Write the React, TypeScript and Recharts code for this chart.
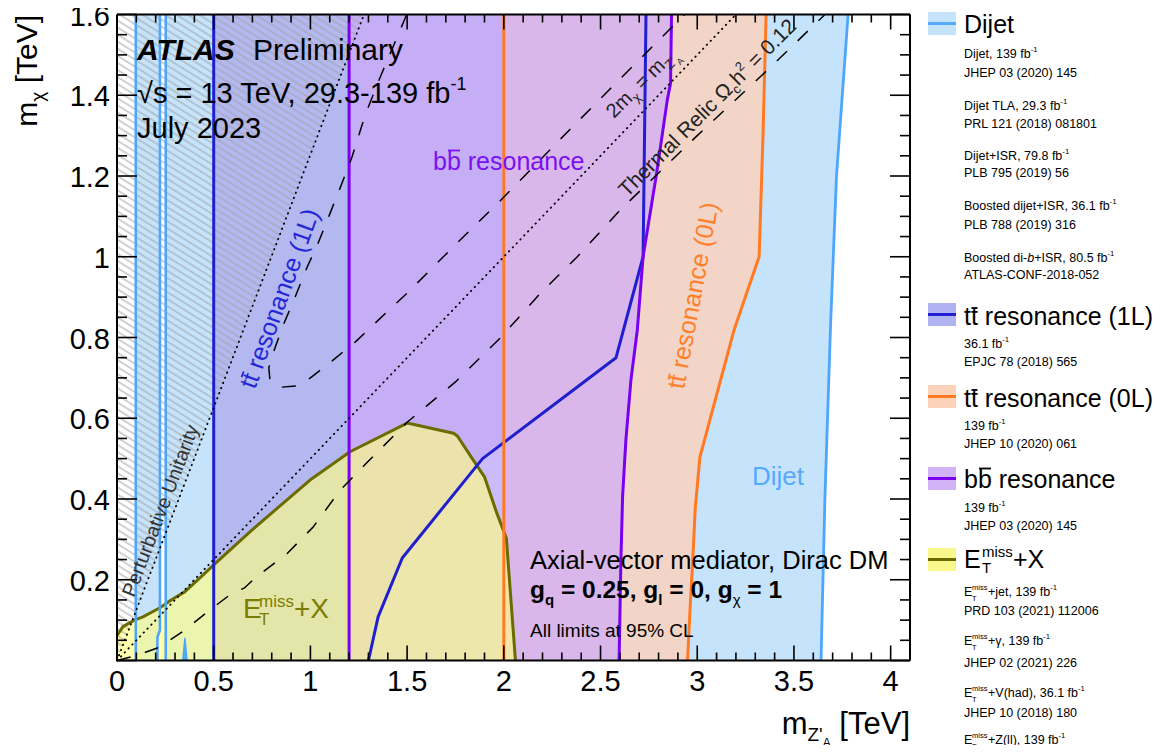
import React from 'react';
import { ComposedChart, Scatter, XAxis, YAxis } from 'recharts';

type Pt = { x: number; y: number };
type Pair = [number, number];

const FONT = "'Liberation Sans', Arial, Helvetica, sans-serif";

// ---------- axes ----------
const X_MAX = 4.1;
const Y_MAX = 1.6;
const xMajorTicks = [0, 0.5, 1, 1.5, 2, 2.5, 3, 3.5, 4];
const xMajorLabels = ['0', '0.5', '1', '1.5', '2', '2.5', '3', '3.5', '4'];
const yMajorTicks = [0, 0.2, 0.4, 0.6, 0.8, 1, 1.2, 1.4, 1.6];
const yMajorLabels = ['', '0.2', '0.4', '0.6', '0.8', '1', '1.2', '1.4', '1.6'];
const X_MINOR_DIV = 5; // minor ticks per major interval
const Y_MINOR_DIV = 4;

const subdivide = (majors: number[], div: number, max: number) => {
  const step = (majors[1] - majors[0]) / div;
  const out: number[] = [];
  for (let i = 0; i * step <= max + 1e-9; i++) out.push(+(i * step).toFixed(3));
  return out;
};
const xTicks = subdivide(xMajorTicks, X_MINOR_DIV, X_MAX);
const yTicks = subdivide(yMajorTicks, Y_MINOR_DIV, Y_MAX);

// ---------- exclusion contours (m_Z'A [TeV], m_chi [TeV]) ----------
const dijetStripLeftX = 0.097;
const dijetStripRightEdge: Pair[] = [[0.209, 0], [0.209, 0.058], [0.222, 0.075], [0.222, 1.6]];
const dijetMainLeftX = 0.252;
const dijetRightEdge: Pair[] = [[3.64, 0], [3.66, 0.4], [3.69, 0.84], [3.72, 1.2], [3.78, 1.6]];
const dijetSpike: Pair[] = [[0.34, 0], [0.351, 0.055], [0.362, 0]];

const tt1LLeftX = 0.5;
const tt1LRightEdge: Pair[] = [
  [1.3, 0], [1.35, 0.108], [1.475, 0.254], [1.89, 0.5], [2.58, 0.75], [2.72, 1.0], [2.735, 1.6],
];

const tt0LLeftX = 2.0;
const tt0LRightEdge: Pair[] = [
  [2.95, 0], [2.962, 0.12], [2.976, 0.241], [2.99, 0.38], [3.014, 0.504], [3.19, 0.818],
  [3.32, 1.0], [3.34, 1.3], [3.356, 1.6],
];

const bbLeftX = 1.2;
const bbRightEdge: Pair[] = [
  [2.596, 0], [2.605, 0.241], [2.614, 0.406], [2.631, 0.546], [2.657, 0.694], [2.69, 0.818],
  [2.72, 1.0], [2.79, 1.207], [2.845, 1.388], [2.862, 1.43], [2.867, 1.6],
];

const metEdge: Pair[] = [
  [0, 0.062], [0.031, 0.084], [0.09, 0.1], [0.134, 0.108], [0.22, 0.13], [0.28, 0.15],
  [0.35, 0.17], [0.43, 0.205], [0.507, 0.24], [0.69, 0.32], [0.998, 0.447], [1.205, 0.517],
  [1.5, 0.588], [1.53, 0.585], [1.74, 0.563], [1.76, 0.556], [1.83, 0.505], [1.9, 0.455],
  [1.96, 0.37], [2.013, 0.303], [2.06, 0],
];

// reference curves
const unitarityLine: Pair[] = [[0, 0], [1.277, 1.6]];
const halfMassLine: Pair[] = [[0, 0], [3.2, 1.6]];
const relicHookCurve: Pair[] = [
  [1.498, 1.6], [1.361, 1.445], [1.283, 1.351], [1.215, 1.247], [1.163, 1.182], [1.102, 1.108],
  [1.04, 1.034], [0.981, 0.972], [0.921, 0.9], [0.859, 0.83], [0.807, 0.761], [0.785, 0.725],
  [0.79, 0.698], [0.81, 0.684], [0.85, 0.677], [0.93, 0.68], [1.0, 0.7], [1.117, 0.744],
  [1.237, 0.791], [1.351, 0.843], [1.5, 0.91], [1.75, 1.03], [1.984, 1.14], [2.3, 1.295],
  [2.6, 1.44], [2.88, 1.574], [2.935, 1.6],
];
const relicLowerCurve: Pair[] = [
  [0, 0], [0.1, 0.012], [0.22, 0.033], [0.35, 0.075], [0.48, 0.125], [0.59, 0.165], [0.66, 0.18],
  [0.72, 0.207], [0.88, 0.265], [1.015, 0.331], [1.154, 0.422], [1.29, 0.489], [1.5, 0.59],
  [1.75, 0.69], [1.984, 0.8], [2.19, 0.91], [2.38, 1.0], [2.6, 1.115], [3.0, 1.3], [3.38, 1.47],
  [3.66, 1.6],
];

// ---------- helpers to build series ----------
const pts = (a: Pair[]): Pt[] => a.map(([x, y]) => ({ x, y }));
const vertical = (x: number): Pair[] => [[x, 0], [x, Y_MAX]];
const bandRegion = (leftX: number, rightEdge: Pair[]): Pair[] => [
  [leftX, 0], [leftX, Y_MAX], ...[...rightEdge].reverse(),
];

const dijetStripRegion = bandRegion(dijetStripLeftX, dijetStripRightEdge);
const dijetMainRegion = bandRegion(dijetMainLeftX, dijetRightEdge);
const tt1LRegion = bandRegion(tt1LLeftX, tt1LRightEdge);
const tt0LRegion = bandRegion(tt0LLeftX, tt0LRightEdge);
const bbRegion = bandRegion(bbLeftX, bbRightEdge);
const metRegion: Pair[] = [[0, 0], ...metEdge];
const unitarityRegion: Pair[] = [[0, 0], unitarityLine[1], [0, Y_MAX]];

const COL = {
  dijetFill: '#c5e3fb',
  dijetLine: '#4ea6fb',
  tt1Fill: '#b3b8f0',
  tt1Line: '#1f1fd0',
  tt0Fill: '#f2d5c6',
  tt0Line: '#ff7a22',
  bbFill: '#ceaafa',
  bbLine: '#7a00ee',
  metFill: '#ffff82',
  metLine: '#6b6b00',
};

const noShape = () => <g />;

const fillSeries = (key: string, data: Pair[], fill: string, fillOpacity = 1) => (
  <Scatter
    key={key}
    name={key}
    data={pts(data)}
    xAxisId="b"
    yAxisId="l"
    shape={noShape}
    isAnimationActive={false}
    line={{ fill, fillOpacity, stroke: 'none' }}
  />
);

const strokeSeries = (
  key: string,
  data: Pair[],
  stroke: string,
  strokeWidth: number,
  strokeDasharray?: string,
  round = false,
) => (
  <Scatter
    key={key}
    name={key}
    data={pts(data)}
    xAxisId="b"
    yAxisId="l"
    shape={noShape}
    isAnimationActive={false}
    line={{
      fill: 'none',
      stroke,
      strokeWidth,
      strokeDasharray,
      strokeLinejoin: 'round',
      strokeLinecap: round ? 'round' : 'butt',
    }}
  />
);

// ---------- ticks (drawn inward, ROOT style) ----------
const majorIndex = (v: number, majors: number[]) => majors.findIndex((m) => Math.abs(m - v) < 1e-6);

const BottomTick = (p: any) => {
  const i = majorIndex(p.payload.value, xMajorTicks);
  return (
    <g>
      <line x1={p.x} x2={p.x} y1={p.y} y2={p.y - (i >= 0 ? 15 : 8)} stroke="#000" strokeWidth={1.6} />
      {i >= 0 && (
        <text x={p.x} y={p.y + 30.5} textAnchor="middle" fontSize={29} fontFamily={FONT} fill="#000">
          {xMajorLabels[i]}
        </text>
      )}
    </g>
  );
};
const TopTick = (p: any) => {
  const i = majorIndex(p.payload.value, xMajorTicks);
  return <line x1={p.x} x2={p.x} y1={p.y} y2={p.y + (i >= 0 ? 15 : 8)} stroke="#000" strokeWidth={1.6} />;
};
const LeftTick = (p: any) => {
  const i = majorIndex(p.payload.value, yMajorTicks);
  return (
    <g>
      <line x1={p.x} x2={p.x + (i >= 0 ? 20 : 10)} y1={p.y} y2={p.y} stroke="#000" strokeWidth={1.6} />
      {i >= 0 && yMajorLabels[i] && (
        <text x={p.x - 7} y={p.y + 11} textAnchor="end" fontSize={29} fontFamily={FONT} fill="#000">
          {yMajorLabels[i]}
        </text>
      )}
    </g>
  );
};
const RightTick = (p: any) => {
  const i = majorIndex(p.payload.value, yMajorTicks);
  return <line x1={p.x} x2={p.x - (i >= 0 ? 20 : 10)} y1={p.y} y2={p.y} stroke="#000" strokeWidth={1.6} />;
};

const frameLine = { stroke: '#000', strokeWidth: 2 };

// ---------- text helpers ----------
const Inv = ({ s }: { s: number }) => (
  <tspan dy={-0.45 * s} fontSize={s * 0.62}>
    -1
  </tspan>
);

const EtMissSmall = ({ x, y, rest }: { x: number; y: number; rest: React.ReactNode }) => (
  <text y={y} fontSize={12.5} fontFamily={FONT} fill="#000">
    <tspan x={x}>E</tspan>
    <tspan x={x + 8} dy={-6} fontSize={7.5}>miss</tspan>
    <tspan x={x + 8} dy={10.5} fontSize={7.5}>T</tspan>
    <tspan x={x + 24} dy={-4.5}>{rest}</tspan>
  </text>
);

const small = (x: number, y: number, content: React.ReactNode, key: string) => (
  <text key={key} x={x} y={y} fontSize={12.5} fontFamily={FONT} fill="#000">
    {content}
  </text>
);

const Swatch = ({ y, fill, line }: { y: number; fill: string; line: string }) => (
  <g>
    <rect x={928} y={y} width={28} height={23} fill={fill} />
    <line x1={928} x2={956} y1={y + 11.5} y2={y + 11.5} stroke={line} strokeWidth={3} />
  </g>
);

function Annotations() {
  const L = 964;
  return (
    <svg
      width={1168}
      height={753}
      style={{ position: 'absolute', left: 0, top: 0, pointerEvents: 'none', overflow: 'visible' }}
    >
      {/* axis titles */}
      <g transform="translate(37,15) rotate(-90)">
        <text x={0} y={0} textAnchor="end" fontSize={30} fontFamily={FONT} fill="#000">
          m<tspan dy={7} fontSize={19}>χ</tspan>
          <tspan dy={-7} fontSize={30}> [TeV]</tspan>
        </text>
      </g>
      <text x={910} y={734} textAnchor="end" fontSize={31} fontFamily={FONT} fill="#000">
        m<tspan dy={7} fontSize={19}>Z'</tspan>
        <tspan dy={6} fontSize={12}>A</tspan>
        <tspan dy={-13} fontSize={31}> [TeV]</tspan>
      </text>

      {/* ATLAS label */}
      <text x={137} y={60} fontSize={30} fontFamily={FONT} fontWeight="bold" fontStyle="italic" fill="#000">
        ATLAS
      </text>
      <text x={253} y={60} fontSize={30} fontFamily={FONT} fill="#000">
        Preliminary
      </text>
      <text x={137} y={103} fontSize={29} fontFamily={FONT} fill="#000">
        √s = 13 TeV, 29.3-139 fb<Inv s={29} />
      </text>
      <text x={137} y={138} fontSize={29} fontFamily={FONT} fill="#000">
        July 2023
      </text>

      {/* region labels */}
      <text x={433} y={170} fontSize={25} fontFamily={FONT} fill="#7b10f0">
        bb resonance
      </text>
      <line x1={433 + 0.6 * 25} x2={433 + 1.08 * 25} y1={170 - 0.78 * 25} y2={170 - 0.78 * 25} stroke="#7b10f0" strokeWidth={1.8} />

      <g transform="translate(255,390) rotate(-70)">
        <text x={0} y={0} fontSize={25} fontFamily={FONT} fill="#2626d8">
          tt resonance (1L)
        </text>
        <line x1={0.3 * 25} x2={0.54 * 25} y1={-0.68 * 25} y2={-0.68 * 25} stroke="#2626d8" strokeWidth={1.8} />
      </g>

      <g transform="translate(684,390) rotate(-79.5)">
        <text x={0} y={0} fontSize={25} fontFamily={FONT} fill="#ff7f2a">
          tt resonance (0L)
        </text>
        <line x1={0.3 * 25} x2={0.54 * 25} y1={-0.68 * 25} y2={-0.68 * 25} stroke="#ff7f2a" strokeWidth={1.8} />
      </g>

      <g transform="translate(134,598) rotate(-69.1)">
        <text x={0} y={0} fontSize={19.5} fontFamily={FONT} fill="#333">
          Perturbative Unitarity
        </text>
      </g>

      <g transform="translate(627,198) rotate(-45)">
        <text x={0} y={0} fontSize={21} fontFamily={FONT} fill="#222">
          Thermal Relic Ω<tspan dy={5} fontSize={13}>c</tspan>
          <tspan dy={-5} fontSize={21}>h</tspan>
          <tspan dy={-9} fontSize={13}>2</tspan>
          <tspan dy={9} fontSize={21}> = 0.12</tspan>
        </text>
      </g>

      <g transform="translate(614,119) rotate(-45)">
        <text x={0} y={0} fontSize={20} fontFamily={FONT} fill="#222">
          2m<tspan dy={5} fontSize={13}>χ</tspan>
          <tspan dy={-5} fontSize={20}> = m</tspan>
          <tspan dy={5} fontSize={13}>Z'</tspan>
          <tspan dy={4} fontSize={9}>A</tspan>
        </text>
      </g>

      <text y={618} fontSize={28} fontFamily={FONT} fill="#7d7d00">
        <tspan x={243}>E</tspan>
        <tspan x={259} dy={-11} fontSize={17}>miss</tspan>
        <tspan x={259} dy={18} fontSize={17}>T</tspan>
        <tspan x={294} dy={-7}>+X</tspan>
      </text>

      <text x={752} y={485} fontSize={26} fontFamily={FONT} fill="#55aaff">
        Dijet
      </text>

      <text x={530} y={569} fontSize={25.5} fontFamily={FONT} fill="#000">
        Axial-vector mediator, Dirac DM
      </text>
      <text x={530} y={598} fontSize={24.5} fontFamily={FONT} fontWeight="bold" fill="#000">
        g<tspan dy={7} fontSize={15}>q</tspan>
        <tspan dy={-7}> = 0.25, g</tspan>
        <tspan dy={7} fontSize={15}>l</tspan>
        <tspan dy={-7}> = 0, g</tspan>
        <tspan dy={7} fontSize={15} fontWeight="normal">χ</tspan>
        <tspan dy={-7}> = 1</tspan>
      </text>
      <text x={530} y={637} fontSize={19} fontFamily={FONT} fill="#000">
        All limits at 95% CL
      </text>

      {/* legend */}
      <Swatch y={12} fill={COL.dijetFill} line="#55aaff" />
      <text x={L} y={33} fontSize={25} fontFamily={FONT} fill="#000">Dijet</text>
      {small(L, 58, <>Dijet, 139 fb<Inv s={12.5} /></>, 'd1')}
      {small(L, 77, 'JHEP 03 (2020) 145', 'd2')}
      {small(L, 110, <>Dijet TLA, 29.3 fb<Inv s={12.5} /></>, 'd3')}
      {small(L, 128, 'PRL 121 (2018) 081801', 'd4')}
      {small(L, 160, <>Dijet+ISR, 79.8 fb<Inv s={12.5} /></>, 'd5')}
      {small(L, 177, 'PLB 795 (2019) 56', 'd6')}
      {small(L, 210, <>Boosted dijet+ISR, 36.1 fb<Inv s={12.5} /></>, 'd7')}
      {small(L, 229, 'PLB 788 (2019) 316', 'd8')}
      {small(L, 262, <>Boosted di-<tspan fontStyle="italic">b</tspan>+ISR, 80.5 fb<Inv s={12.5} /></>, 'd9')}
      {small(L, 279, 'ATLAS-CONF-2018-052', 'd10')}

      <Swatch y={303} fill="#b0b3f2" line={COL.tt1Line} />
      <text x={L} y={325} fontSize={25} fontFamily={FONT} fill="#000">tt resonance (1L)</text>
      <line x1={L + 0.3 * 25} x2={L + 0.54 * 25} y1={325 - 0.68 * 25} y2={325 - 0.68 * 25} stroke="#000" strokeWidth={1.8} />
      {small(L, 348, <>36.1 fb<Inv s={12.5} /></>, 't1')}
      {small(L, 366, 'EPJC 78 (2018) 565', 't2')}

      <Swatch y={385} fill="#fcd2bb" line={COL.tt0Line} />
      <text x={L} y={407} fontSize={25} fontFamily={FONT} fill="#000">tt resonance (0L)</text>
      <line x1={L + 0.3 * 25} x2={L + 0.54 * 25} y1={407 - 0.68 * 25} y2={407 - 0.68 * 25} stroke="#000" strokeWidth={1.8} />
      {small(L, 430, <>139 fb<Inv s={12.5} /></>, 'o1')}
      {small(L, 448, 'JHEP 10 (2020) 061', 'o2')}

      <Swatch y={467} fill="#d3b3f8" line={COL.bbLine} />
      <text x={L} y={488} fontSize={25} fontFamily={FONT} fill="#000">bb resonance</text>
      <line x1={L + 0.6 * 25} x2={L + 1.08 * 25} y1={488 - 0.78 * 25} y2={488 - 0.78 * 25} stroke="#000" strokeWidth={1.8} />
      {small(L, 512, <>139 fb<Inv s={12.5} /></>, 'b1')}
      {small(L, 530, 'JHEP 03 (2020) 145', 'b2')}

      <Swatch y={548} fill="#f8f88c" line={COL.metLine} />
      <text y={568} fontSize={25} fontFamily={FONT} fill="#000">
        <tspan x={L}>E</tspan>
        <tspan x={L + 18} dy={-11} fontSize={15}>miss</tspan>
        <tspan x={L + 18} dy={16} fontSize={15}>T</tspan>
        <tspan x={L + 49} dy={-5}>+X</tspan>
      </text>
      <EtMissSmall x={L} y={596} rest={<>+jet, 139 fb<Inv s={12.5} /></>} />
      {small(L, 615, 'PRD 103 (2021) 112006', 'm1')}
      <EtMissSmall x={L} y={645} rest={<>+γ, 139 fb<Inv s={12.5} /></>} />
      {small(L, 667, 'JHEP 02 (2021) 226', 'm2')}
      <EtMissSmall x={L} y={697} rest={<>+V(had), 36.1 fb<Inv s={12.5} /></>} />
      {small(L, 717, 'JHEP 10 (2018) 180', 'm3')}
      <EtMissSmall x={L} y={744} rest={<>+Z(ll), 139 fb<Inv s={12.5} /></>} />
    </svg>
  );
}

export default function App() {
  return (
    <div style={{ position: 'relative', width: 1168, height: 753, margin: -8 }}>
      <svg width={0} height={0} style={{ position: 'absolute' }}>
        <defs>
          <pattern id="puHatch" patternUnits="userSpaceOnUse" width={10} height={6} patternTransform="rotate(32)">
            <line x1={0} x2={10} y1={3} y2={3} stroke="#a2a2a2" strokeWidth={1} />
          </pattern>
        </defs>
      </svg>
      <ComposedChart width={1168} height={753} margin={{ top: 8.5, right: 248, bottom: 32.5, left: 37 }}>
        {/* filled exclusion regions */}
        {fillSeries('dijetStrip', dijetStripRegion, COL.dijetFill)}
        {fillSeries('dijetMain', dijetMainRegion, COL.dijetFill)}
        {fillSeries('tt1L', tt1LRegion, COL.tt1Fill)}
        {fillSeries('tt0L', tt0LRegion, COL.tt0Fill)}
        {fillSeries('bb', bbRegion, COL.bbFill, 0.7)}
        {fillSeries('met', metRegion, COL.metFill, 0.65)}
        {fillSeries('unitarity', unitarityRegion, 'url(#puHatch)')}
        {fillSeries('dijetSpike', dijetSpike, COL.dijetLine)}

        {/* contour lines */}
        {strokeSeries('metEdge', metEdge, COL.metLine, 3)}
        {strokeSeries('dijetStripL', vertical(dijetStripLeftX), COL.dijetLine, 2.6)}
        {strokeSeries('dijetStripR', dijetStripRightEdge, COL.dijetLine, 2.6)}
        {strokeSeries('dijetMainL', vertical(dijetMainLeftX), COL.dijetLine, 2.6)}
        {strokeSeries('dijetR', dijetRightEdge, COL.dijetLine, 2.8)}
        {strokeSeries('dijetSpikeEdge', dijetSpike, COL.dijetLine, 1.5)}
        {strokeSeries('tt1LL', vertical(tt1LLeftX), COL.tt1Line, 3)}
        {strokeSeries('tt1LR', tt1LRightEdge, COL.tt1Line, 3)}
        {strokeSeries('bbL', vertical(bbLeftX), COL.bbLine, 3)}
        {strokeSeries('bbR', bbRightEdge, COL.bbLine, 3)}
        {strokeSeries('tt0LL', vertical(tt0LLeftX), COL.tt0Line, 3)}
        {strokeSeries('tt0LR', tt0LRightEdge, COL.tt0Line, 3)}

        {/* reference curves */}
        {strokeSeries('unitarityLine', unitarityLine, '#000', 1.8, '0.5 5', true)}
        {strokeSeries('halfMass', halfMassLine, '#000', 1.8, '0.5 5', true)}
        {strokeSeries('relicHook', relicHookCurve, '#000', 1.5, '14 15')}
        {strokeSeries('relicLower', relicLowerCurve, '#000', 1.5, '14 15')}

        {/* keeps the mirrored axes bound to a series */}
        <Scatter data={[{ x: 0, y: 0 }]} xAxisId="t" yAxisId="r" shape={noShape} isAnimationActive={false} />

        <XAxis
          xAxisId="b"
          type="number"
          dataKey="x"
          domain={[0, X_MAX]}
          ticks={xTicks}
          interval={0}
          tickSize={0}
          tickMargin={0}
          tickLine={false}
          tick={BottomTick}
          axisLine={frameLine}
          height={60}
          zIndex={1000}
        />
        <XAxis
          xAxisId="t"
          orientation="top"
          type="number"
          dataKey="x"
          domain={[0, X_MAX]}
          ticks={xTicks}
          interval={0}
          tickSize={0}
          tickMargin={0}
          tickLine={false}
          tick={TopTick}
          axisLine={frameLine}
          height={6}
          zIndex={1000}
        />
        <YAxis
          yAxisId="l"
          type="number"
          dataKey="y"
          domain={[0, Y_MAX]}
          ticks={yTicks}
          interval={0}
          tickSize={0}
          tickMargin={0}
          tickLine={false}
          tick={LeftTick}
          axisLine={frameLine}
          width={80}
          zIndex={1000}
        />
        <YAxis
          yAxisId="r"
          orientation="right"
          type="number"
          dataKey="y"
          domain={[0, Y_MAX]}
          ticks={yTicks}
          interval={0}
          tickSize={0}
          tickMargin={0}
          tickLine={false}
          tick={RightTick}
          axisLine={frameLine}
          width={10}
          zIndex={1000}
        />
      </ComposedChart>
      <Annotations />
    </div>
  );
}
